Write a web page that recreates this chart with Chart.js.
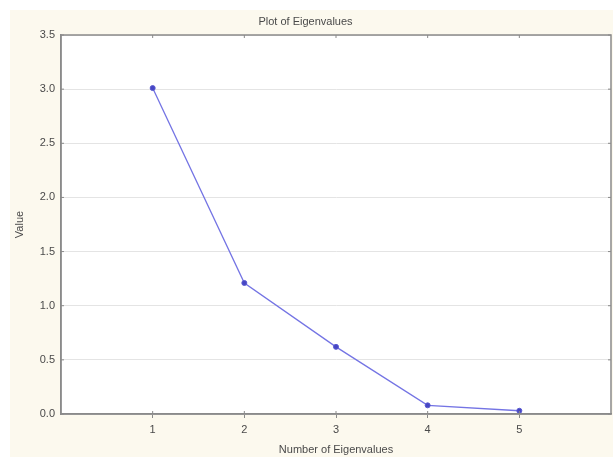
<!DOCTYPE html>
<html>
<head>
<meta charset="utf-8">
<script src="https://cdn.jsdelivr.net/npm/chart.js@4.4.1/dist/chart.umd.min.js"></script>
<style>
  html, body { margin: 0; padding: 0; background: #ffffff; }
  #wrap { width: 613px; height: 457px; position: relative; }
</style>
</head>
<body>
<div id="wrap"><canvas id="c" width="613" height="457"></canvas></div>
<script>
// Scree plot: eigenvalue by component number
const eigenNumbers = [1, 2, 3, 4, 5];
const eigenValues = [3.01, 1.21, 0.62, 0.08, 0.03];
const xTickValues = [1, 2, 3, 4, 5];
const yTickValues = [0, 0.5, 1.0, 1.5, 2.0, 2.5, 3.0, 3.5];

const FONT = 'Liberation Sans, Arial, sans-serif';
const TEXT = '#4a4a4a';
const FRAME = '#8a8a8a';

// Cream panel behind the chart, white plot area, full frame with inward ticks
const framePlugin = {
  id: 'frame',
  beforeDraw(chart) {
    const { ctx, chartArea: a } = chart;
    ctx.save();
    ctx.fillStyle = '#fcf9ee';
    ctx.fillRect(10, 10, chart.width - 10, chart.height - 10);
    ctx.fillStyle = '#ffffff';
    ctx.fillRect(a.left, a.top, a.right - a.left, a.bottom - a.top);
    ctx.restore();
  },
  afterDatasetsDraw(chart) {
    const { ctx, chartArea: a, scales } = chart;
    ctx.save();
    ctx.strokeStyle = FRAME;
    ctx.lineWidth = 1.5;
    ctx.strokeRect(a.left, a.top, a.right - a.left, a.bottom - a.top);
    ctx.lineWidth = 1;
    ctx.beginPath();
    xTickValues.forEach(v => {
      const x = scales.x.getPixelForValue(v);
      ctx.moveTo(x, a.top); ctx.lineTo(x, a.top + 3);
      ctx.moveTo(x, a.bottom); ctx.lineTo(x, a.bottom - 3);
    });
    yTickValues.forEach(v => {
      const y = scales.y.getPixelForValue(v);
      ctx.moveTo(a.right, y); ctx.lineTo(a.right - 3, y);
      ctx.moveTo(a.left, y); ctx.lineTo(a.left + 3, y);
    });
    ctx.stroke();
    ctx.restore();
  }
};

new Chart(document.getElementById('c'), {
  type: 'line',
  data: {
    datasets: [{
      data: eigenNumbers.map((n, i) => ({ x: n, y: eigenValues[i] })),
      borderColor: '#7474e4',
      borderWidth: 1.3,
      backgroundColor: '#4646c4',
      pointBackgroundColor: '#4646c4',
      pointBorderColor: '#5a5ad0',
      pointRadius: 2.5,
      pointBorderWidth: 1,
      tension: 0,
      fill: false,
      clip: false
    }]
  },
  options: {
    responsive: false,
    animation: false,
    layout: { autoPadding: false, padding: { top: 0, right: 2, bottom: 0, left: 0 } },
    plugins: {
      legend: { display: false },
      tooltip: { enabled: false },
      title: {
        display: true,
        text: 'Plot of Eigenvalues',
        color: TEXT,
        font: { family: FONT, size: 11, weight: 'normal' },
        padding: { top: 15.4, bottom: 6.4 }
      }
    },
    scales: {
      x: {
        type: 'linear',
        min: 0,
        max: 6,
        afterFit(scale) { scale.height = 43; scale.paddingRight = 0; },
        afterBuildTicks(scale) { scale.ticks = xTickValues.map(v => ({ value: v })); },
        grid: { display: true, drawOnChartArea: false, drawTicks: true, tickLength: 4, color: FRAME },
        border: { display: true, color: FRAME, width: 1.5 },
        ticks: { color: TEXT, font: { family: FONT, size: 11 }, padding: 5, maxRotation: 0 },
        title: {
          display: true,
          text: 'Number of Eigenvalues',
          color: TEXT,
          font: { family: FONT, size: 11 },
          padding: { top: 0, bottom: 0 }
        }
      },
      y: {
        min: 0,
        max: 3.5,
        afterFit(scale) { scale.width = 61; },
        afterBuildTicks(scale) { scale.ticks = yTickValues.map(v => ({ value: v })); },
        grid: { color: '#e4e4e4', lineWidth: 1, drawTicks: false },
        border: { display: true, color: FRAME, width: 1.5 },
        ticks: {
          color: TEXT,
          font: { family: FONT, size: 11 },
          padding: 6,
          callback: v => Number(v).toFixed(1)
        },
        title: {
          display: true,
          text: 'Value',
          color: TEXT,
          font: { family: FONT, size: 11 },
          padding: { top: 13.4, bottom: 0 }
        }
      }
    }
  },
  plugins: [framePlugin]
});
</script>
</body>
</html>
